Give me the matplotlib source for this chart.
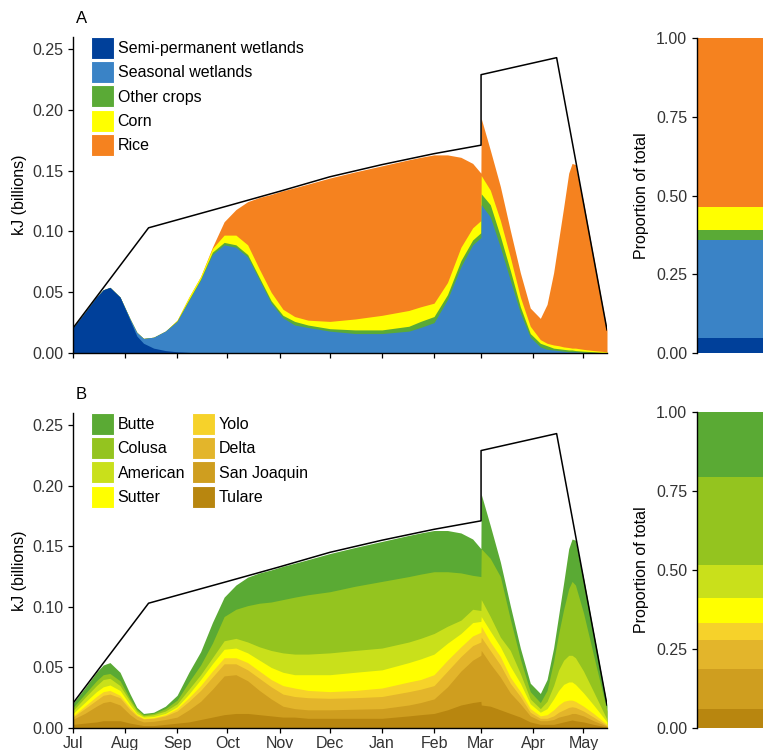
import numpy as np
import matplotlib
matplotlib.use("Agg")
import matplotlib.pyplot as plt
from matplotlib.patches import Patch
from matplotlib.ticker import FormatStrFormatter

plt.rcParams['font.family'] = ['Liberation Sans', 'DejaVu Sans']

# days since 1 July
days = [0, 7, 14, 18, 22, 28, 34, 38, 42, 48, 55, 62, 69, 76, 83, 90, 97, 104, 111,
        118, 125, 132, 140, 153, 168, 184, 200, 207, 215, 223, 231, 238, 242.9,
        243.1, 248.5, 254.5, 260.4, 266.4, 272.3, 278.3, 282.3, 286.2, 289.2, 292.2,
        295.2, 297.2, 299.2, 304, 310, 318]

# energy available (black line)
line_days = [0, 45, 92, 123, 153, 184, 215, 243, 243, 288, 318]
line_kj = [0.0205, 0.103, 0.121, 0.133, 0.145, 0.155, 0.164, 0.171, 0.229, 0.243, 0.019]

# total energy used (top of the stacks)
total = [0.0205, 0.033, 0.046, 0.052, 0.054, 0.046, 0.028, 0.017, 0.012, 0.013, 0.018,
         0.027, 0.046, 0.063, 0.087, 0.108, 0.118, 0.1245, 0.128, 0.1305, 0.1335, 0.136,
         0.139, 0.144, 0.149, 0.154, 0.159, 0.161, 0.163, 0.163, 0.161, 0.156, 0.148,
         0.193, 0.167, 0.137, 0.101, 0.066, 0.037, 0.0285, 0.040, 0.066, 0.093, 0.120,
         0.148, 0.156, 0.155, 0.124, 0.079, 0.019]

# panel A, cumulative tops of each habitat layer
semi_top = [0.0205, 0.033, 0.046, 0.052, 0.054, 0.046, 0.027, 0.014, 0.008, 0.004, 0.002,
            0.001, 0.0005, 0, 0, 0, 0, 0, 0, 0, 0, 0, 0, 0, 0, 0, 0, 0, 0, 0, 0, 0, 0,
            0, 0, 0, 0, 0, 0, 0, 0, 0, 0, 0, 0, 0, 0, 0, 0, 0]
seasonal_top = [0.0205, 0.033, 0.046, 0.052, 0.054, 0.046, 0.028, 0.017, 0.012, 0.013, 0.018,
                0.026, 0.043, 0.060, 0.081, 0.089, 0.087, 0.079, 0.060, 0.041, 0.029, 0.023,
                0.021, 0.018, 0.016, 0.016, 0.018, 0.021, 0.025, 0.044, 0.071, 0.089, 0.095,
                0.122, 0.112, 0.087, 0.060, 0.033, 0.013, 0.005, 0.003, 0.0025, 0.002, 0.0015,
                0.001, 0.001, 0.001, 0.0005, 0, 0]
other_top = [0.0205, 0.033, 0.046, 0.052, 0.054, 0.046, 0.028, 0.017, 0.012, 0.013, 0.018,
             0.0265, 0.044, 0.061, 0.083, 0.091, 0.089, 0.081, 0.062, 0.043, 0.031, 0.026,
             0.023, 0.020, 0.019, 0.019, 0.022, 0.026, 0.030, 0.048, 0.076, 0.093, 0.099,
             0.131, 0.122, 0.096, 0.068, 0.038, 0.016, 0.008, 0.006, 0.004, 0.0035, 0.003,
             0.0025, 0.0025, 0.002, 0.0015, 0.001, 0]
corn_top = [0.0205, 0.033, 0.046, 0.052, 0.054, 0.046, 0.028, 0.017, 0.012, 0.013, 0.018,
            0.027, 0.046, 0.063, 0.086, 0.097, 0.097, 0.089, 0.069, 0.050, 0.036, 0.030,
            0.027, 0.026, 0.028, 0.031, 0.035, 0.038, 0.041, 0.058, 0.087, 0.103, 0.109,
            0.146, 0.134, 0.109, 0.079, 0.046, 0.022, 0.011, 0.008, 0.0066, 0.006, 0.005,
            0.0045, 0.004, 0.004, 0.003, 0.002, 0.001]

# panel B, cumulative tops of each region layer (Butte top = total)
colusa_top = [0.017, 0.028, 0.039, 0.044, 0.045, 0.039, 0.024, 0.0155, 0.011, 0.012, 0.016,
              0.023, 0.038, 0.052, 0.070, 0.092, 0.098, 0.101, 0.103, 0.104, 0.106, 0.108,
              0.110, 0.1125, 0.117, 0.121, 0.125, 0.127, 0.129, 0.129, 0.128, 0.126, 0.125,
              0.148, 0.140, 0.125, 0.090, 0.057, 0.030, 0.021, 0.031, 0.055, 0.078, 0.098,
              0.115, 0.121, 0.118, 0.095, 0.060, 0.014]
american_top = [0.0145, 0.025, 0.035, 0.040, 0.041, 0.035, 0.022, 0.014, 0.010, 0.011, 0.014,
                0.020, 0.032, 0.044, 0.058, 0.072, 0.074, 0.071, 0.067, 0.064, 0.062, 0.061,
                0.061, 0.062, 0.064, 0.066, 0.071, 0.074, 0.078, 0.084, 0.089, 0.098, 0.097,
                0.106, 0.092, 0.075, 0.064, 0.045, 0.024, 0.016, 0.022, 0.035, 0.048, 0.056,
                0.060, 0.060, 0.058, 0.047, 0.030, 0.007]
sutter_top = [0.012, 0.021, 0.030, 0.034, 0.0355, 0.031, 0.019, 0.012, 0.009, 0.0095, 0.012,
              0.0175, 0.028, 0.040, 0.053, 0.065, 0.066, 0.062, 0.056, 0.050, 0.046, 0.044,
              0.044, 0.044, 0.046, 0.048, 0.054, 0.057, 0.061, 0.070, 0.078, 0.087, 0.088,
              0.092, 0.080, 0.067, 0.051, 0.037, 0.020, 0.013, 0.016, 0.024, 0.031, 0.036,
              0.038, 0.038, 0.036, 0.029, 0.019, 0.005]
yolo_top = [0.010, 0.018, 0.026, 0.030, 0.031, 0.027, 0.017, 0.011, 0.008, 0.0085, 0.011,
            0.016, 0.025, 0.035, 0.047, 0.058, 0.058, 0.054, 0.047, 0.040, 0.035, 0.033,
            0.031, 0.030, 0.031, 0.033, 0.038, 0.040, 0.044, 0.056, 0.067, 0.076, 0.079,
            0.084, 0.071, 0.059, 0.042, 0.030, 0.016, 0.010, 0.011, 0.015, 0.019, 0.022,
            0.023, 0.023, 0.022, 0.018, 0.012, 0.003]
delta_top = [0.009, 0.016, 0.023, 0.027, 0.028, 0.025, 0.015, 0.010, 0.0075, 0.008, 0.010,
             0.014, 0.022, 0.031, 0.042, 0.053, 0.053, 0.048, 0.041, 0.034, 0.028, 0.026,
             0.025, 0.0245, 0.025, 0.026, 0.030, 0.032, 0.035, 0.047, 0.059, 0.068, 0.071,
             0.075, 0.064, 0.052, 0.037, 0.026, 0.013, 0.008, 0.008, 0.010, 0.013, 0.015,
             0.017, 0.0175, 0.017, 0.014, 0.009, 0.002]
sjq_top = [0.0072, 0.012, 0.018, 0.021, 0.022, 0.019, 0.011, 0.007, 0.005, 0.0055, 0.007,
           0.009, 0.015, 0.022, 0.032, 0.043, 0.044, 0.039, 0.031, 0.024, 0.018, 0.016,
           0.015, 0.015, 0.0155, 0.016, 0.019, 0.021, 0.024, 0.034, 0.047, 0.056, 0.060,
           0.064, 0.053, 0.042, 0.029, 0.020, 0.010, 0.006, 0.006, 0.007, 0.009, 0.010,
           0.011, 0.012, 0.012, 0.010, 0.006, 0.0015]
tulare_top = [0.003, 0.004, 0.005, 0.006, 0.006, 0.006, 0.004, 0.003, 0.002, 0.002, 0.003,
              0.004, 0.005, 0.007, 0.009, 0.011, 0.012, 0.012, 0.011, 0.010, 0.009, 0.009,
              0.008, 0.008, 0.008, 0.008, 0.010, 0.011, 0.012, 0.015, 0.019, 0.021, 0.022,
              0.019, 0.018, 0.015, 0.012, 0.009, 0.005, 0.003, 0.003, 0.003, 0.004, 0.005,
              0.006, 0.0066, 0.006, 0.005, 0.003, 0.0007]

# proportion of total over the season
habitat_labels = ["Semi-permanent wetlands", "Seasonal wetlands", "Other crops", "Corn", "Rice"]
habitat_share = [0.049, 0.309, 0.034, 0.072, 0.536]
region_labels = ["Butte", "Colusa", "American", "Sutter", "Yolo", "Delta", "San Joaquin", "Tulare"]
region_share = [0.207, 0.277, 0.106, 0.079, 0.053, 0.090, 0.127, 0.061]

month_days = [0, 31, 62, 92, 123, 153, 184, 215, 243, 274, 304]
month_labels = ["Jul", "Aug", "Sep", "Oct", "Nov", "Dec", "Jan", "Feb", "Mar", "Apr", "May"]

habitat_colors = ["#00409a", "#3a83c6", "#5aaa36", "#ffff00", "#f5821f"]
region_colors = ["#5aaa34", "#94c41f", "#c9e01b", "#ffff00", "#f6d22a", "#e3b52b", "#cf9e1f", "#b8860f"]

FS = 11.5
TXT = "#333333"


def style_axis(ax):
    for s in ["top", "right"]:
        ax.spines[s].set_visible(False)
    for s in ["left", "bottom"]:
        ax.spines[s].set_linewidth(1.0)
    ax.tick_params(direction="out", length=3.5, width=0.9, labelsize=FS, labelcolor=TXT)


def area_panel(ax, tops, colors, legend_colors, labels, ncol):
    # draw from the highest cumulative top down, so no seams between layers
    for top, col in zip(tops, colors):
        ax.fill_between(days, 0, top, color=col, linewidth=0)
    ax.plot(line_days, line_kj, color="black", lw=1.1)
    ax.set_xlim(0, 318)
    ax.set_ylim(0, 0.26)
    ax.set_yticks([0, 0.05, 0.10, 0.15, 0.20, 0.25])
    ax.yaxis.set_major_formatter(FormatStrFormatter('%.2f'))
    ax.set_xticks(month_days)
    ax.set_ylabel("kJ (billions)", fontsize=FS, labelpad=4)
    style_axis(ax)
    handles = [Patch(facecolor=c, edgecolor="white", linewidth=0.8) for c in legend_colors]
    ax.legend(handles, labels, loc="upper left", bbox_to_anchor=(0.034, 1.0), ncol=ncol,
              frameon=False, fontsize=FS, handlelength=1.4, handleheight=1.74,
              labelspacing=0.14, handletextpad=0.25, columnspacing=0.45,
              borderpad=0, borderaxespad=0)


def bar_panel(ax, shares, colors):
    bottom = 0
    for v, c in zip(shares, colors):
        ax.bar(0, v, width=1, bottom=bottom, align="edge", color=c, linewidth=0)
        bottom += v
    ax.set_xlim(0, 1)
    ax.set_ylim(0, 1)
    ax.set_yticks([0, 0.25, 0.5, 0.75, 1.0])
    ax.yaxis.set_major_formatter(FormatStrFormatter('%.2f'))
    ax.set_xticks([])
    style_axis(ax)
    ax.spines["bottom"].set_visible(False)
    ax.set_ylabel("Proportion of total", fontsize=FS, labelpad=5)


fig = plt.figure(figsize=(7.63, 7.5), dpi=100)

axA = fig.add_axes([73 / 763, 1 - 353 / 750, 534 / 763, 316 / 750])
area_panel(axA,
           [total, corn_top, other_top, seasonal_top, semi_top],
           habitat_colors[::-1], habitat_colors, habitat_labels, 1)
axA.set_xticklabels([])
axA.text(0.005, 1.035, "A", transform=axA.transAxes, fontsize=12, ha="left", va="bottom")

axB = fig.add_axes([73 / 763, 1 - 728 / 750, 534 / 763, 315 / 750])
area_panel(axB,
           [total, colusa_top, american_top, sutter_top, yolo_top, delta_top, sjq_top, tulare_top],
           region_colors, region_colors, region_labels, 2)
axB.set_xticklabels(month_labels)
axB.tick_params(axis="x", pad=2)
axB.text(0.005, 1.035, "B", transform=axB.transAxes, fontsize=12, ha="left", va="bottom")

axA2 = fig.add_axes([697 / 763, 1 - 353 / 750, 0.2, 315 / 750])
bar_panel(axA2, habitat_share, habitat_colors)

axB2 = fig.add_axes([697 / 763, 1 - 728 / 750, 0.2, 316 / 750])
bar_panel(axB2, region_share[::-1], region_colors[::-1])

fig.savefig("out.png", dpi=100)
